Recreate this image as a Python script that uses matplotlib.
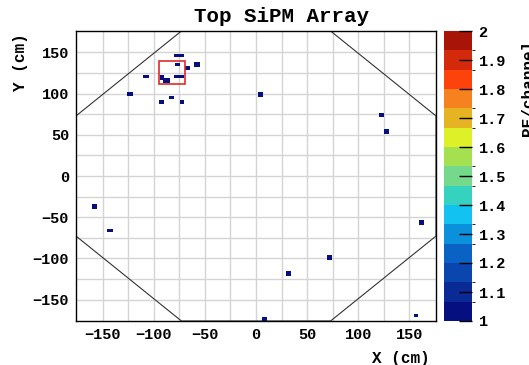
import numpy as np
import matplotlib
matplotlib.use("Agg")
import matplotlib.pyplot as plt
from matplotlib.colors import ListedColormap, BoundaryNorm
from matplotlib.patches import Rectangle, Polygon
from matplotlib.collections import PatchCollection

# ---- data: SiPM hits on the top array (centre in cm, extent in cm, PE/channel)
hit_x = [-75.6, -76.8, -67.1, -57.5, -107.7, -91.7, -87.8, -75.6, -123.2, -92.5, -82.5,
         -72.4, 4.0, 122.9, 127.7, -158.0, -142.8, 161.5, 72.0, 32.0, 8.0, 156.0]
hit_y = [146.0, 135.5, 131.0, 135.5, 121.0, 119.0, 116.0, 121.0, 100.0, 90.0, 95.5,
         90.0, 99.0, 74.0, 54.0, -37.0, -66.3, -57.0, -98.7, -118.4, -173.5, -169.0]
hit_w = [10, 4.5, 4.5, 5.5, 6, 4, 7, 10, 5, 4.5, 4.5, 4.5, 5, 5, 5.5, 5, 6, 5, 5, 4.5, 5, 4]
hit_h = [3, 4.5, 4, 6, 3.7, 6, 6, 3.7, 5, 4.5, 4, 5, 5.5, 4, 5.5, 5.5, 4, 6, 5.5, 5.5, 5, 3.5]
hit_pe = [1.02, 1.03, 1.01, 1.04, 1.02, 1.05, 1.03, 1.02, 1.04, 1.01, 1.02,
          1.03, 1.05, 1.01, 1.04, 1.02, 1.01, 1.03, 1.02, 1.04, 1.03, 1.01]

# highlighted region
box_x = [-94.5, -69.0]
box_y = [112.0, 139.0]

x_ticks = [-150, -100, -50, 0, 50, 100, 150]
y_ticks = [-150, -100, -50, 0, 50, 100, 150]
cbar_ticks = [1.0, 1.1, 1.2, 1.3, 1.4, 1.5, 1.6, 1.7, 1.8, 1.9, 2.0]

# detector outline: regular octagon
R = 176.0
half_side = R * np.tan(np.pi / 8)

palette = ["#050f80", "#0a2a96", "#0b45ae", "#0a62c4", "#0b90db", "#12c2f0",
           "#36d2c0", "#74d98a", "#a4e050", "#def028", "#e6b423", "#f5821e",
           "#fd420c", "#d42a0c", "#a81408"]
cmap = ListedColormap(palette)
norm = BoundaryNorm(np.linspace(1.0, 2.0, len(palette) + 1), cmap.N)

FONT = "Liberation Mono"
W, H = 529, 365
fig = plt.figure(figsize=(W / 100, H / 100), dpi=100)
ax = fig.add_axes([76 / W, 1 - 321 / H, 360 / W, 290 / H])
cax = fig.add_axes([443.5 / W, 1 - 321 / H, 28 / W, 290 / H])

ax.set_xlim(-R, R)
ax.set_ylim(-R, R)
grid = np.arange(-150, 151, 25)
for g in grid:
    ax.axvline(g, color="#d4d4d4", lw=1.0, zorder=0)
    ax.axhline(g, color="#d4d4d4", lw=1.0, zorder=0)

octagon = Polygon([(-half_side, R), (half_side, R), (R, half_side), (R, -half_side),
                   (half_side, -R), (-half_side, -R), (-R, -half_side), (-R, half_side)],
                  closed=True, fill=False, edgecolor="#333333", lw=0.8, zorder=1)
ax.add_patch(octagon)

rects = [Rectangle((x - w / 2, y - h / 2), w, h)
         for x, y, w, h in zip(hit_x, hit_y, hit_w, hit_h)]
pc = PatchCollection(rects, cmap=cmap, norm=norm, edgecolor="none", zorder=2)
pc.set_array(np.array(hit_pe))
ax.add_collection(pc)

ax.add_patch(Rectangle((box_x[0], box_y[0]), box_x[1] - box_x[0], box_y[1] - box_y[0],
                       fill=False, edgecolor="#e02a2a", lw=1.2, zorder=3))

ax.set_xticks(x_ticks)
ax.set_yticks(y_ticks)
ax.set_xticklabels([str(v).replace("-", "\u2212") for v in x_ticks])
ax.set_yticklabels([str(v).replace("-", "\u2212") for v in y_ticks])
ax.tick_params(length=0, pad=5)
for lab in ax.get_xticklabels() + ax.get_yticklabels():
    lab.set_fontfamily(FONT)
    lab.set_fontweight("bold")
    lab.set_fontsize(11)
for sp in ax.spines.values():
    sp.set_linewidth(1.0)
    sp.set_color("black")

cb = fig.colorbar(pc, cax=cax, ticks=cbar_ticks, drawedges=False)
cb.outline.set_visible(False)
cax.tick_params(direction="in", length=9.5, width=1.0, color="black", pad=5)
cax.set_yticklabels([f"{v:g}" for v in cbar_ticks])
for lab in cax.get_yticklabels():
    lab.set_fontfamily(FONT)
    lab.set_fontweight("bold")
    lab.set_fontsize(11)

fig.text(281.5 / W, 1 - 17 / H, "Top SiPM Array", ha="center", va="center",
         fontfamily=FONT, fontweight="bold", fontsize=15)
fig.text(430 / W, 1 - 358 / H, "X (cm)", ha="right", va="center",
         fontfamily=FONT, fontweight="bold", fontsize=11.5)
fig.text(20 / W, 1 - 33 / H, "Y (cm)", ha="center", va="top", rotation=90,
         fontfamily=FONT, fontweight="bold", fontsize=11.5)
fig.text(528 / W, 1 - 40 / H, "PE/channel", ha="center", va="top", rotation=90,
         fontfamily=FONT, fontweight="bold", fontsize=11.5)

fig.savefig("out.png", dpi=100, facecolor="white")
